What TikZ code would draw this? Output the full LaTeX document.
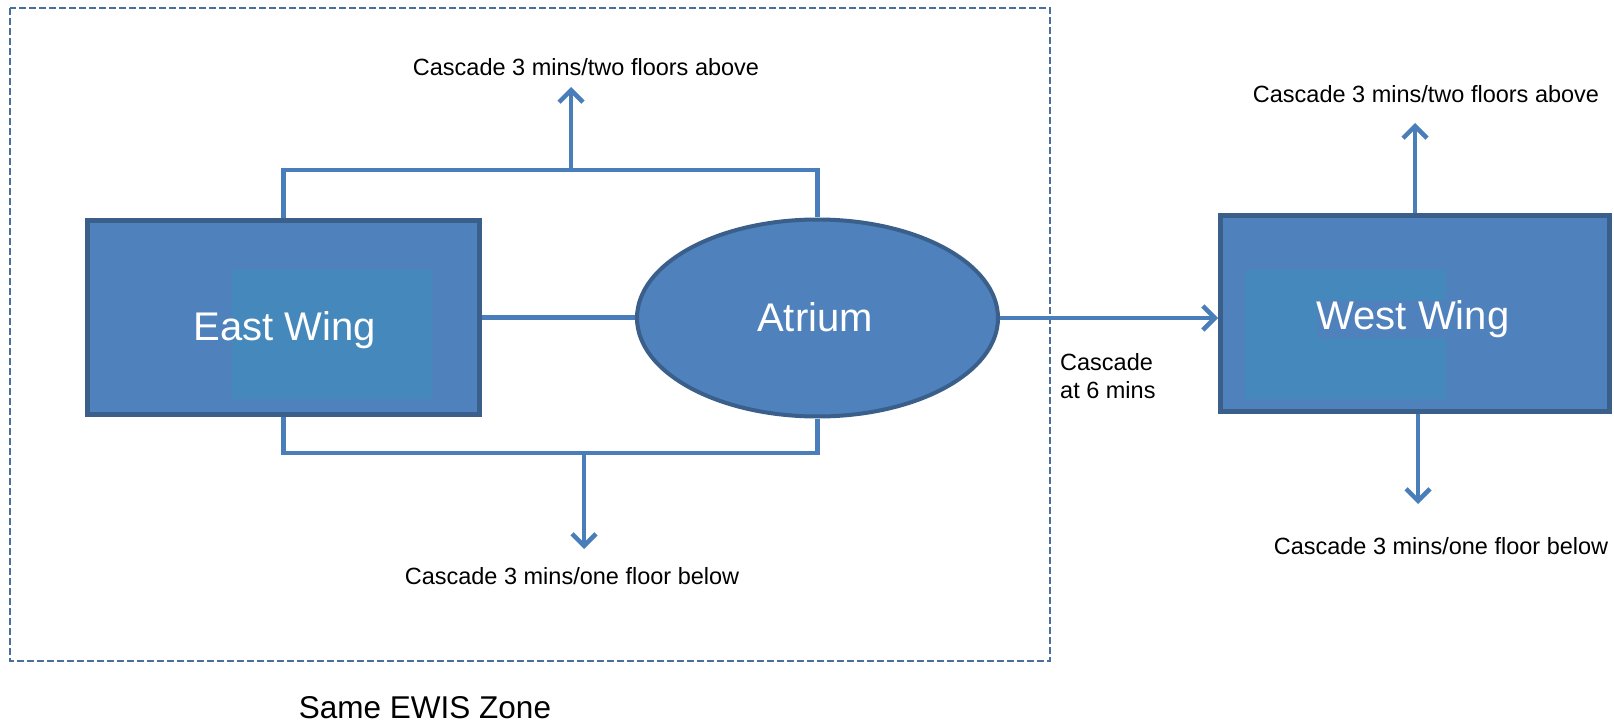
\documentclass[tikz,border=0pt]{standalone}
\usepackage{fontspec}
\setmainfont{Liberation Sans}
\usetikzlibrary{arrows.meta,positioning,calc,shapes.geometric}
\definecolor{wingblue}{HTML}{4F81BD}
\definecolor{wingedge}{HTML}{3A5F8B}
\definecolor{wingcore}{HTML}{4589BC}
\definecolor{linkblue}{HTML}{4A7EBB}
\definecolor{zoneblue}{HTML}{4A6F9C}
\newcommand{\lbl}{\fontsize{23.5}{28}\selectfont}
\newcommand{\wingfont}{\fontsize{40}{46}\selectfont}

\begin{document}
\begin{tikzpicture}[
  x=1pt, y=-1pt,
  wing/.style={draw=wingedge, line width=5pt, fill=wingblue, inner sep=0pt},
  core/.style={fill=wingcore, draw=none},
  link/.style={draw=linkblue, line width=4.5pt},
  arr/.style={link, -{Straight Barb[length=12pt, width=24pt]}},
  note/.style={font=\lbl, inner sep=0pt}]
  \useasboundingbox (0,0) rectangle (1614,727);
  % zone frame
  \draw[zoneblue, line width=2pt, dash pattern=on 7pt off 3pt] (10,8) rectangle (1050,661);
  \node[font=\fontsize{31.5}{36}\selectfont] (zone) at (425,708) {Same EWIS Zone};
  % wings and atrium
  \node[wing, minimum width=392pt, minimum height=194pt] (east) at (283.5,317.5) {};
  \fill[core] (232,270) rectangle (432,399);
  \node[text=white, font=\wingfont] (eastlbl) at (285,330) {East Wing};
  \node[wing, ellipse, line width=4pt, minimum width=361pt, minimum height=197pt] (atrium) at (817.5,318) {};
  \node[text=white, font=\wingfont] (atriumlbl) at (815,317) {Atrium};
  \node[wing, minimum width=389pt, minimum height=196pt] (west) at (1415,313.5) {};
  \fill[core] (1245,270) rectangle (1446,399);
  \node[text=white, font=\wingfont, fill=wingblue, inner sep=0pt] (westlbl) at (1413,319) {West Wing};
  % brackets above and below
  \coordinate (topbar) at (571,170);
  \coordinate (topend) at (571,87);
  \coordinate (botbar) at (584,453);
  \coordinate (botend) at (584,549);
  \draw[link] (east.north) |- (topbar) -| (atrium.north);
  \draw[link] (east.south) |- (botbar) -| (atrium.south);
  \draw[link] (east.east) -- (east.east -| atrium.west);
  \draw[arr] (topbar) -- (topend);
  \draw[arr] (botbar) -- (botend);
  \node[note] (eastup) at (586,67) {Cascade 3 mins/two floors above};
  \node[note] (eastdown) at (572,576) {Cascade 3 mins/one floor below};
  % cascade to the west wing
  \draw[arr] (atrium.east) -- (atrium.east -| west.west);
  \node[note, anchor=west, align=left] (sixmin) at (1060,376) {Cascade\\at 6 mins};
  \coordinate (westtop) at (1415,123);
  \coordinate (westbot) at (1418,504);
  \draw[arr] (west.north) -- (westtop);
  \draw[arr] (west.south -| westbot) -- (westbot);
  \node[note] (westup) at (1426,94) {Cascade 3 mins/two floors above};
  \node[note] (westdown) at (1441,546) {Cascade 3 mins/one floor below};
\end{tikzpicture}
\end{document}
